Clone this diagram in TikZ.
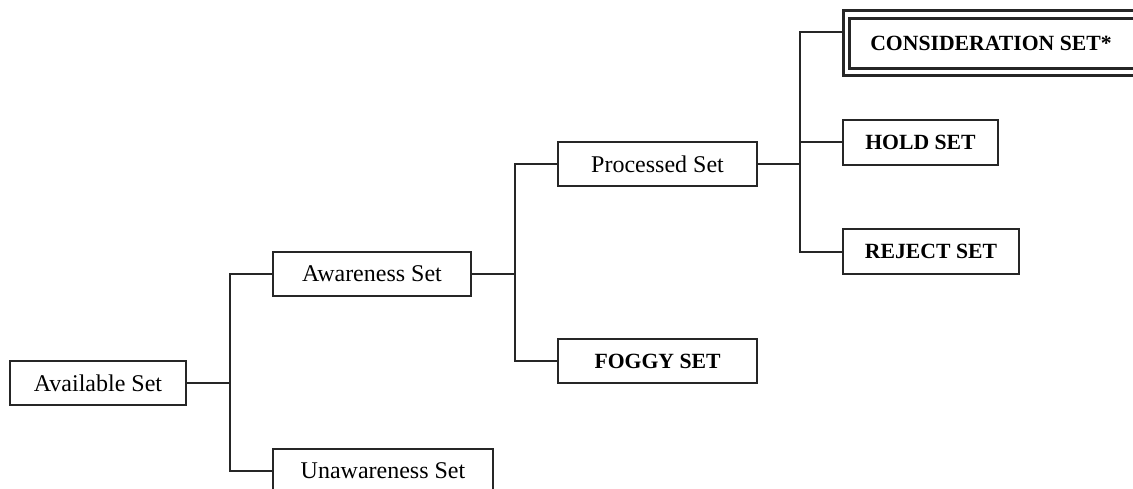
\documentclass[tikz,border=0pt]{standalone}
\usepackage{fontspec}
\setmainfont{Liberation Serif}
\begin{document}
\begin{tikzpicture}[x=1pt,y=-1pt,
  setbox/.style={draw=black!85, line width=2pt, minimum height=44pt, inner sep=0pt, outer sep=0pt, font=\fontsize{24}{28}\selectfont},
  boldbox/.style={setbox, font=\fontsize{21.7}{26}\selectfont\bfseries},
  link/.style={draw=black!85, line width=2pt},
  frame/.style={draw=black!85, line width=3pt}]
\useasboundingbox (0,0) rectangle (1133,488);
\node[setbox, minimum width=176pt] (avail) at (98,383) {Available Set};
\node[setbox, minimum width=198pt] (aware) at (372,274) {Awareness Set};
\node[setbox, minimum width=220pt] (unaware) at (383,471) {Unawareness Set};
\node[setbox, minimum width=199pt] (proc) at (657.5,164) {Processed Set};
\node[boldbox, minimum width=199pt] (foggy) at (657.5,361) {FOGGY SET};
\node[boldbox, minimum width=155pt, minimum height=45pt] (hold) at (920.5,142) {HOLD SET};
\node[boldbox, minimum width=176pt, minimum height=45pt] (reject) at (931,251.5) {REJECT SET};
\node[font=\fontsize{21.7}{26}\selectfont\bfseries, inner sep=0pt] (cons) at (991,43) {CONSIDERATION SET*};
\draw[frame] (849.5,18) rectangle (1160,68.3);
\draw[frame] (843.5,10.8) rectangle (1170,75.8);
\coordinate (consin) at (842,32);
% connectors
\draw[link] (avail.east) -- ++(44,0);
\draw[link] (aware.west) -- ++(-43,0) |- (unaware.west);
\draw[link] (aware.east) -- ++(43.5,0);
\draw[link] (proc.west) -- ++(-43.5,0) |- (foggy.west);
\draw[link] (proc.east) -- ++(42.5,0);
\draw[link] (consin) -- ++(-42.5,0) |- (reject.west);
\draw[link] (hold.west) -- ++(-43.5,0);
\end{tikzpicture}
\end{document}
